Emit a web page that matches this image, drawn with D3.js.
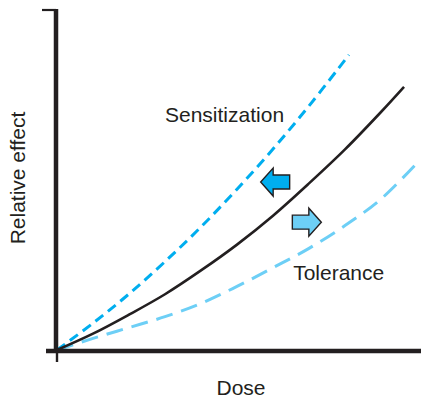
<!DOCTYPE html>
<html>
<head>
<meta charset="utf-8">
<script src="https://cdn.jsdelivr.net/npm/d3@7"></script>
<style>
  html, body { margin: 0; padding: 0; background: #fff; }
  svg { display: block; }
  text { font-family: "Liberation Sans", Arial, Helvetica, sans-serif; fill: #231f20; }
</style>
</head>
<body>
<svg id="chart" width="421" height="399"></svg>
<script>
// Dose–response curves (arbitrary units: dose 0–10, effect 0–10)
const dose        = [0, 1, 2, 3, 4, 5, 6, 7, 8, 9, 9.64];
const normal      = [0, 0.48, 1.04, 1.64, 2.34, 3.10, 3.95, 4.90, 5.90, 7.0, 7.74];
const sensDose    = [0, 1, 2, 3, 4, 5, 6, 7, 8, 8.11];
const sensitized  = [0, 0.79, 1.65, 2.60, 3.62, 4.73, 5.91, 7.18, 8.53, 8.68];
const tolDose     = [0, 1, 2, 3, 4, 5, 6, 7, 8, 9, 10];
const tolerant    = [0, 0.34, 0.66, 0.98, 1.37, 1.87, 2.42, 2.99, 3.66, 4.44, 5.5];

// Shift arrows: position in data units, pointing left (-1) or right (+1)
const arrows = [
  { x: 6.06, y: 4.94, dir: -1, fill: "#00aeef" },
  { x: 6.94, y: 3.76, dir:  1, fill: "#6dcff6" }
];
const labels = [
  { text: "Sensitization", x: 3.0, y: 6.7 },
  { text: "Tolerance",     x: 6.56, y: 2.05 }
];

const svg = d3.select("#chart");
const x = d3.scaleLinear().domain([0, 10]).range([57, 417]);
const y = d3.scaleLinear().domain([0, 10]).range([350, 10]);

const line = d3.line().x(d => x(d[0])).y(d => y(d[1])).curve(d3.curveCatmullRom.alpha(0.5));

const normalPts = dose.map((d, i) => [d, normal[i]]);
const sensPts = sensDose.map((d, i) => [d, sensitized[i]]);
const tolPts = tolDose.map((d, i) => [d, tolerant[i]]);

// Curves
svg.append("path").datum(tolPts).attr("d", line)
  .attr("fill", "none").attr("stroke", "#6dcff6").attr("stroke-width", 3)
  .attr("stroke-dasharray", "17,9");
svg.append("path").datum(sensPts).attr("d", line)
  .attr("fill", "none").attr("stroke", "#00aeef").attr("stroke-width", 3)
  .attr("stroke-dasharray", "10,6");
svg.append("path").datum(normalPts).attr("d", line)
  .attr("fill", "none").attr("stroke", "#231f20").attr("stroke-width", 2.6);

// Axes
const axisColor = "#231f20";
const yAxis = d3.axisLeft(y).tickValues([10]).tickSize(14).tickSizeOuter(0).tickFormat("");
const gy = svg.append("g").attr("transform", `translate(${x(0) - 1},0)`).call(yAxis);
gy.select(".domain").attr("stroke", axisColor).attr("stroke-width", 4.5)
  .attr("d", `M0,${y(10) - 1}V${y(0) + 2}`);
gy.selectAll(".tick line").attr("stroke", axisColor).attr("stroke-width", 2.2)
  .attr("x2", -14).attr("transform", "translate(0,-0.5)");

const xAxis = d3.axisBottom(x).tickValues([0]).tickSize(11).tickSizeOuter(0).tickFormat("");
const gx = svg.append("g").attr("transform", "translate(0,351)").call(xAxis);
gx.select(".domain").attr("stroke", axisColor).attr("stroke-width", 4.5)
  .attr("d", `M${x(0) - 11},0H${x(10) + 4}`);
gx.selectAll(".tick line").attr("stroke", axisColor).attr("stroke-width", 2.4)
  .attr("transform", "translate(-0.5,0)");

// Shift arrows
const arrowShape = dir => {
  const p = [[-14.5, -7], [2, -7], [2, -14], [14.5, 0], [2, 14], [2, 7], [-14.5, 7]];
  return p.map(([a, b]) => [a * dir, b]);
};
svg.selectAll("polygon.arrow").data(arrows).join("polygon")
  .attr("class", "arrow")
  .attr("points", d => arrowShape(d.dir).map(([a, b]) => [x(d.x) + a, y(d.y) + b].join(",")).join(" "))
  .attr("fill", d => d.fill)
  .attr("stroke", "#231f20").attr("stroke-width", 1.4).attr("stroke-linejoin", "miter");

// Labels
svg.selectAll("text.curve-label").data(labels).join("text")
  .attr("class", "curve-label")
  .attr("x", d => x(d.x)).attr("y", d => y(d.y))
  .attr("font-size", 21)
  .text(d => d.text);

svg.append("text").attr("x", 241).attr("y", 395).attr("text-anchor", "middle")
  .attr("font-size", 21).text("Dose");
svg.append("text").attr("transform", "translate(25,178) rotate(-90)").attr("text-anchor", "middle")
  .attr("font-size", 21).text("Relative effect");
</script>
</body>
</html>
